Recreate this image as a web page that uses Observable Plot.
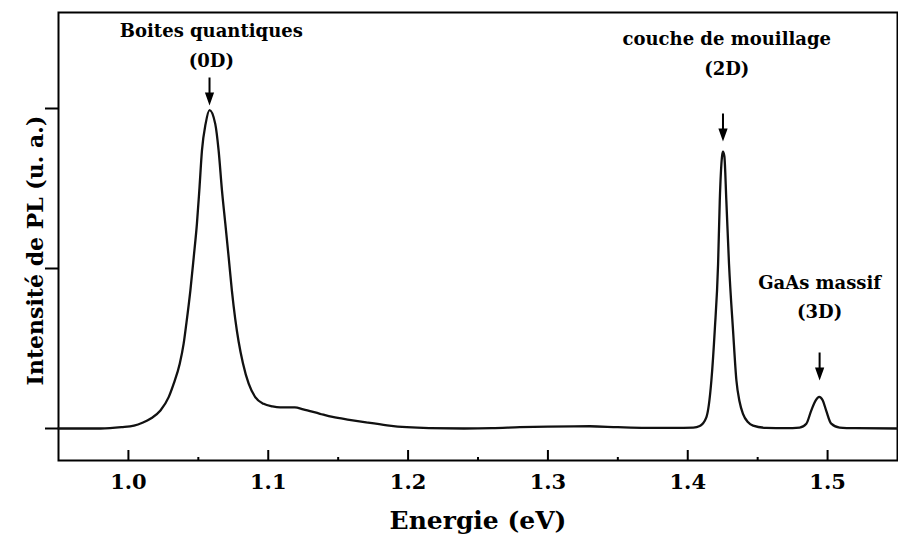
<!DOCTYPE html>
<html>
<head>
<meta charset="utf-8">
<script src="https://cdn.jsdelivr.net/npm/d3@7"></script>
<script src="https://cdn.jsdelivr.net/npm/@observablehq/plot@0.6"></script>
<style>
  html, body { margin: 0; padding: 0; background: #fff; }
  #chart svg { display: block; }
</style>
</head>
<body>
<div id="chart"></div>
<script>
// Photoluminescence spectrum
const energy = [
  0.95, 0.98, 0.995, 1.004, 1.010, 1.016, 1.0229, 1.0288, 1.0324, 1.0367, 1.0395,
  1.0414, 1.0443, 1.0467, 1.049, 1.0507, 1.0526, 1.0552, 1.058, 1.0621, 1.0645,
  1.0669, 1.0693, 1.0717, 1.074, 1.0764, 1.0788, 1.0819, 1.086, 1.0907, 1.0967,
  1.103, 1.1086, 1.114, 1.119, 1.125, 1.137, 1.146, 1.158, 1.17,
  1.185, 1.199, 1.215, 1.24, 1.26, 1.28, 1.30, 1.33, 1.35, 1.37, 1.39, 1.404, 1.4086,
  1.4133, 1.4169, 1.4193, 1.4217, 1.4229, 1.4245, 1.4252, 1.4262, 1.4276, 1.4295,
  1.4324, 1.4348, 1.437, 1.4395, 1.443, 1.4467, 1.4562, 1.47, 1.48, 1.4848, 1.4883,
  1.4915, 1.494, 1.4965, 1.499, 1.5026, 1.5086, 1.52, 1.55
];
const intensity = [
  0, 0, 0.004, 0.009, 0.018, 0.031, 0.056, 0.098, 0.140, 0.202, 0.265,
  0.327, 0.431, 0.535, 0.640, 0.744, 0.869, 0.952, 0.995, 0.952, 0.869,
  0.744, 0.640, 0.535, 0.431, 0.342, 0.272, 0.204, 0.140, 0.098, 0.077,
  0.069, 0.066, 0.066, 0.066, 0.060, 0.046, 0.036, 0.027, 0.019,
  0.010, 0.004, 0.001, 0, 0.001, 0.004, 0.006, 0.007, 0.004, 0.002, 0.002, 0.003, 0.008,
  0.035, 0.15, 0.306, 0.515, 0.712, 0.85, 0.865, 0.85, 0.712, 0.515,
  0.306, 0.15, 0.085, 0.046, 0.02, 0.009, 0.002, 0.001, 0.003, 0.015, 0.056,
  0.088, 0.099, 0.088, 0.056, 0.015, 0.003, 0.001, 0
];

// Tick values
const majorTicks = [1.0, 1.1, 1.2, 1.3, 1.4, 1.5];
const minorTicks = [1.05, 1.15, 1.25, 1.35, 1.45];
const yTicks = [0, 0.5, 1.0];

// Annotations
const annotationText = ["Boites quantiques\n(0D)", "couche de mouillage\n(2D)", "GaAs massif\n(3D)"];
const labelEnergy = [1.0593, 1.4279, 1.4943];
const labelIntensity = [1.131, 1.106, 0.344];
const arrowEnergy = [1.058, 1.4252, 1.4943];
const arrowTipIntensity = [1.019, 0.906, 0.159];

const spectrum = energy.map((e, i) => ({e, v: intensity[i]}));
const labels = annotationText.map((t, i) => ({t, e: labelEnergy[i], v: labelIntensity[i]}));
const arrows = arrowEnergy.map((e, i) => ({e, v: arrowTipIntensity[i]}));

const FONT = "'DejaVu Serif', 'Liberation Serif', serif";

const arrowShape = {
  draw(ctx, l) {
    const h = 9, w = 3.2;
    ctx.moveTo(0, 0);
    ctx.lineTo(0, -l + h);
    ctx.moveTo(-w, -l + h);
    ctx.lineTo(0, -l);
    ctx.lineTo(w, -l + h);
    ctx.closePath();
  }
};

const chart = Plot.plot({
  width: 898,
  height: 535,
  marginLeft: 58,
  marginRight: 1,
  marginTop: 12,
  marginBottom: 75,
  style: {background: "#fff", color: "#000", overflow: "visible"},
  x: {domain: [0.95, 1.55]},
  y: {domain: [-0.1, 1.3]},
  marks: [
    Plot.axisX(minorTicks, {tickSize: -3, strokeWidth: 2, fill: "none", label: null, tickFormat: () => ""}),
    Plot.axisX(majorTicks, {
      tickSize: -10, tickPadding: 24, strokeWidth: 2, label: null,
      tickFormat: d3.format(".1f"),
      fontSize: 21, fontWeight: "bold", fontFamily: FONT, fill: "#000"
    }),
    Plot.axisY(yTicks, {tickSize: 13, strokeWidth: 2, fill: "none", label: null, tickFormat: () => ""}),
    Plot.frame({stroke: "#000", strokeWidth: 2}),
    Plot.line(spectrum, {x: "e", y: "v", stroke: "#111", strokeWidth: 2.3, curve: "monotone-x"}),
    Plot.vector(arrows, {
      x: "e", y: "v", length: 25, rotate: 180, anchor: "end", shape: arrowShape,
      stroke: "#000", fill: "#000", strokeWidth: 2, strokeLinejoin: "miter", strokeLinecap: "butt"
    }),
    Plot.text(labels, {
      x: "e", y: "v", text: "t", lineAnchor: "bottom", lineHeight: 1.62,
      fontSize: 18, fontWeight: "bold", fontFamily: FONT, fill: "#000"
    }),
    Plot.text(["Energie (eV)"], {
      frameAnchor: "bottom", lineAnchor: "bottom", dy: 68,
      fontSize: 25, fontWeight: "bold", fontFamily: FONT, fill: "#000"
    }),
    Plot.text(["Intensité de PL (u. a.)"], {
      frameAnchor: "left", textAnchor: "middle", rotate: -90, lineAnchor: "bottom", dx: -16, dy: 14,
      fontSize: 22, fontWeight: "bold", fontFamily: FONT, fill: "#000"
    })
  ]
});
document.getElementById("chart").appendChild(chart);
</script>
</body>
</html>
